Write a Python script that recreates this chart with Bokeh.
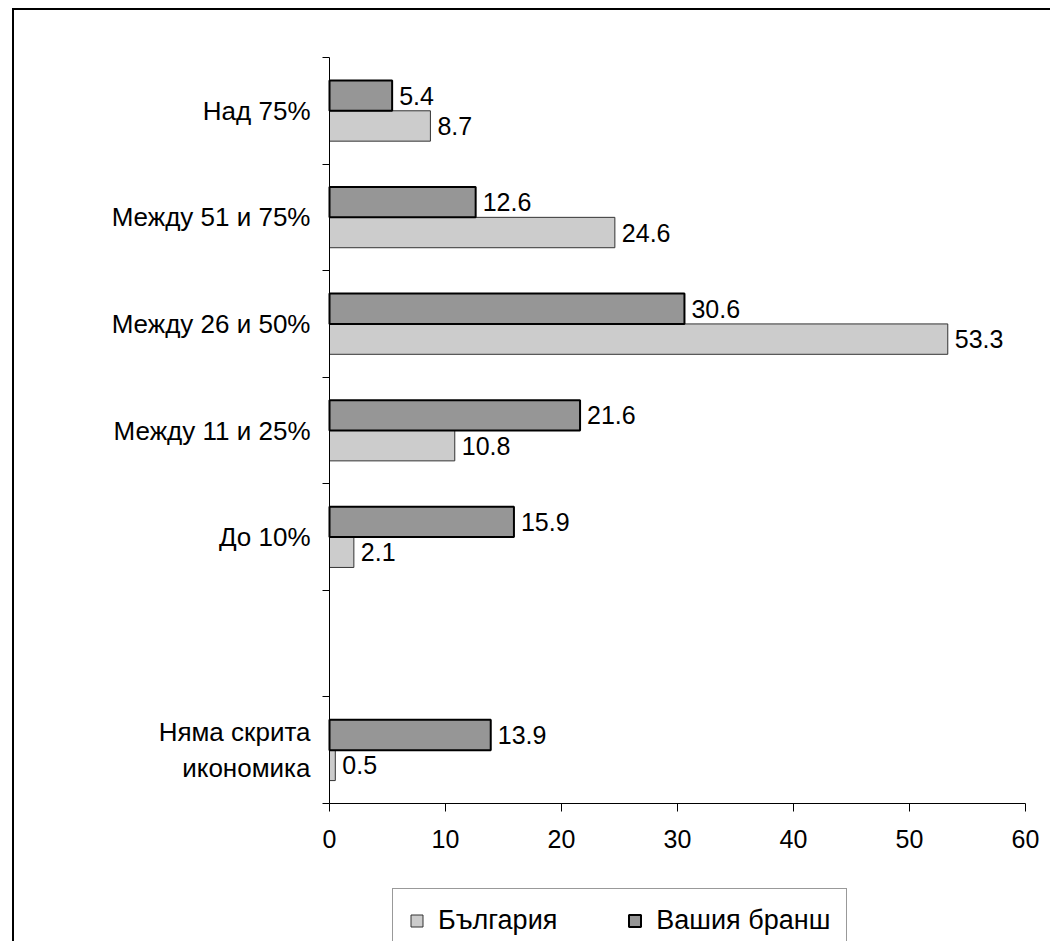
from bokeh.plotting import figure
from bokeh.models import Range1d, FixedTicker, ColumnDataSource, Legend, LegendItem
from bokeh.core.properties import value
from bokeh.embed import file_html
from bokeh.resources import INLINE

# ---- data ----
categories = ["Над 75%", "Между 51 и 75%", "Между 26 и 50%", "Между 11 и 25%",
              "До 10%", "", "Няма скрита\nикономика"]
bulgaria = [8.7, 24.6, 53.3, 10.8, 2.1, None, 0.5]
branch = [5.4, 12.6, 30.6, 21.6, 15.9, None, 13.9]
series_names = ["България", "Вашия бранш"]
x_ticks = [0, 10, 20, 30, 40, 50, 60]

FONT = "Liberation Sans"
FS = "25px"

n = len(categories)
centers = [n - i - 0.5 for i in range(n)]
keep = [i for i in range(n) if bulgaria[i] is not None]
bh = 0.285

src_bg = ColumnDataSource(dict(
    y=[centers[i] - bh / 2 for i in keep],
    x=[bulgaria[i] for i in keep],
    t=["%.1f" % bulgaria[i] for i in keep]))
src_br = ColumnDataSource(dict(
    y=[centers[i] + bh / 2 for i in keep],
    x=[branch[i] for i in keep],
    t=["%.1f" % branch[i] for i in keep]))

# canvas geometry (pixels): plot area x 329..1025, y 57..803 on a 1050x941 canvas
W, H = 1050, 941
PX_L, PX_R, PY_T, PY_B = 329, 1025, 57, 803
xmax = x_ticks[-1]
sx = (PX_R - PX_L) / xmax
sy = (PY_B - PY_T) / n
x_range = Range1d(-PX_L / sx, (W - PX_L) / sx)
y_range = Range1d(-(H - PY_B) / sy, PY_B / sy)

p = figure(width=W, height=H, output_backend="svg", toolbar_location=None,
           x_range=x_range, y_range=y_range,
           min_border_left=0, min_border_right=0, min_border_top=0, min_border_bottom=0)
p.styles = {"box-shadow": "inset 12px 8px 0 0 white, inset 14px 10px 0 0 black"}
p.background_fill_color = None
p.border_fill_color = None
p.outline_line_color = None
p.xgrid.grid_line_color = None
p.ygrid.grid_line_color = None

r_bg = p.hbar(y="y", right="x", left=0, height=bh, source=src_bg,
              fill_color="#cccccc", line_color="#333333", line_width=1)
r_br = p.hbar(y="y", right="x", left=0, height=bh, source=src_br,
              fill_color="#969696", line_color="black", line_width=2)

p.text(x="x", y="y", text="t", source=src_bg, x_offset=7, text_baseline="middle",
       text_align="left", text_font=value(FONT), text_font_size=FS, text_color="black")
p.text(x="x", y="y", text="t", source=src_br, x_offset=7, text_baseline="middle",
       text_align="left", text_font=value(FONT), text_font_size=FS, text_color="black")

# x axis
p.xaxis.fixed_location = 0
p.xaxis.bounds = (0, xmax)
p.xaxis.ticker = FixedTicker(ticks=x_ticks)
p.xaxis.major_label_text_font = FONT
p.xaxis.major_label_text_font_size = FS
p.xaxis.major_label_text_color = "black"
p.xaxis.major_tick_out = 8
p.xaxis.major_tick_in = 0
p.xaxis.minor_tick_line_color = None
p.xaxis.axis_line_color = "black"
p.xaxis.major_tick_line_color = "black"
p.xaxis.major_label_standoff = 18

# y axis: labels at slot centres (major, no tick), tick marks at slot borders (minor)
label_pos = [centers[i] for i in range(n) if categories[i]]
p.yaxis.fixed_location = 0
p.yaxis.bounds = (0, n)
p.yaxis.ticker = FixedTicker(ticks=label_pos, minor_ticks=list(range(n + 1)))
p.yaxis.major_label_overrides = {centers[i]: categories[i] for i in range(n) if categories[i]}
p.yaxis.major_label_text_font = FONT
p.yaxis.major_label_text_font_size = "26px"
p.yaxis.major_label_text_color = "black"
p.yaxis.major_label_standoff = 12
p.yaxis.major_tick_out = 0
p.yaxis.major_tick_in = 0
p.yaxis.minor_tick_out = 7
p.yaxis.minor_tick_in = 0
p.yaxis.minor_tick_line_color = "black"
p.yaxis.axis_line_color = "black"

legend = Legend(items=[LegendItem(label=series_names[0], renderers=[r_bg]),
                       LegendItem(label=series_names[1], renderers=[r_br])],
                orientation="horizontal", location=(392, -12))
legend.label_text_font = FONT
legend.label_text_font_size = "27px"
legend.label_text_color = "black"
legend.glyph_width = 15
legend.glyph_height = 15
legend.label_standoff = 14
legend.spacing = 70
legend.padding = 16
legend.margin = 0
legend.border_line_color = "#333333"
legend.border_line_width = 1
legend.background_fill_color = "white"
legend.background_fill_alpha = 1
p.add_layout(legend, "center")

open("out.html", "w").write(file_html(p, INLINE))
